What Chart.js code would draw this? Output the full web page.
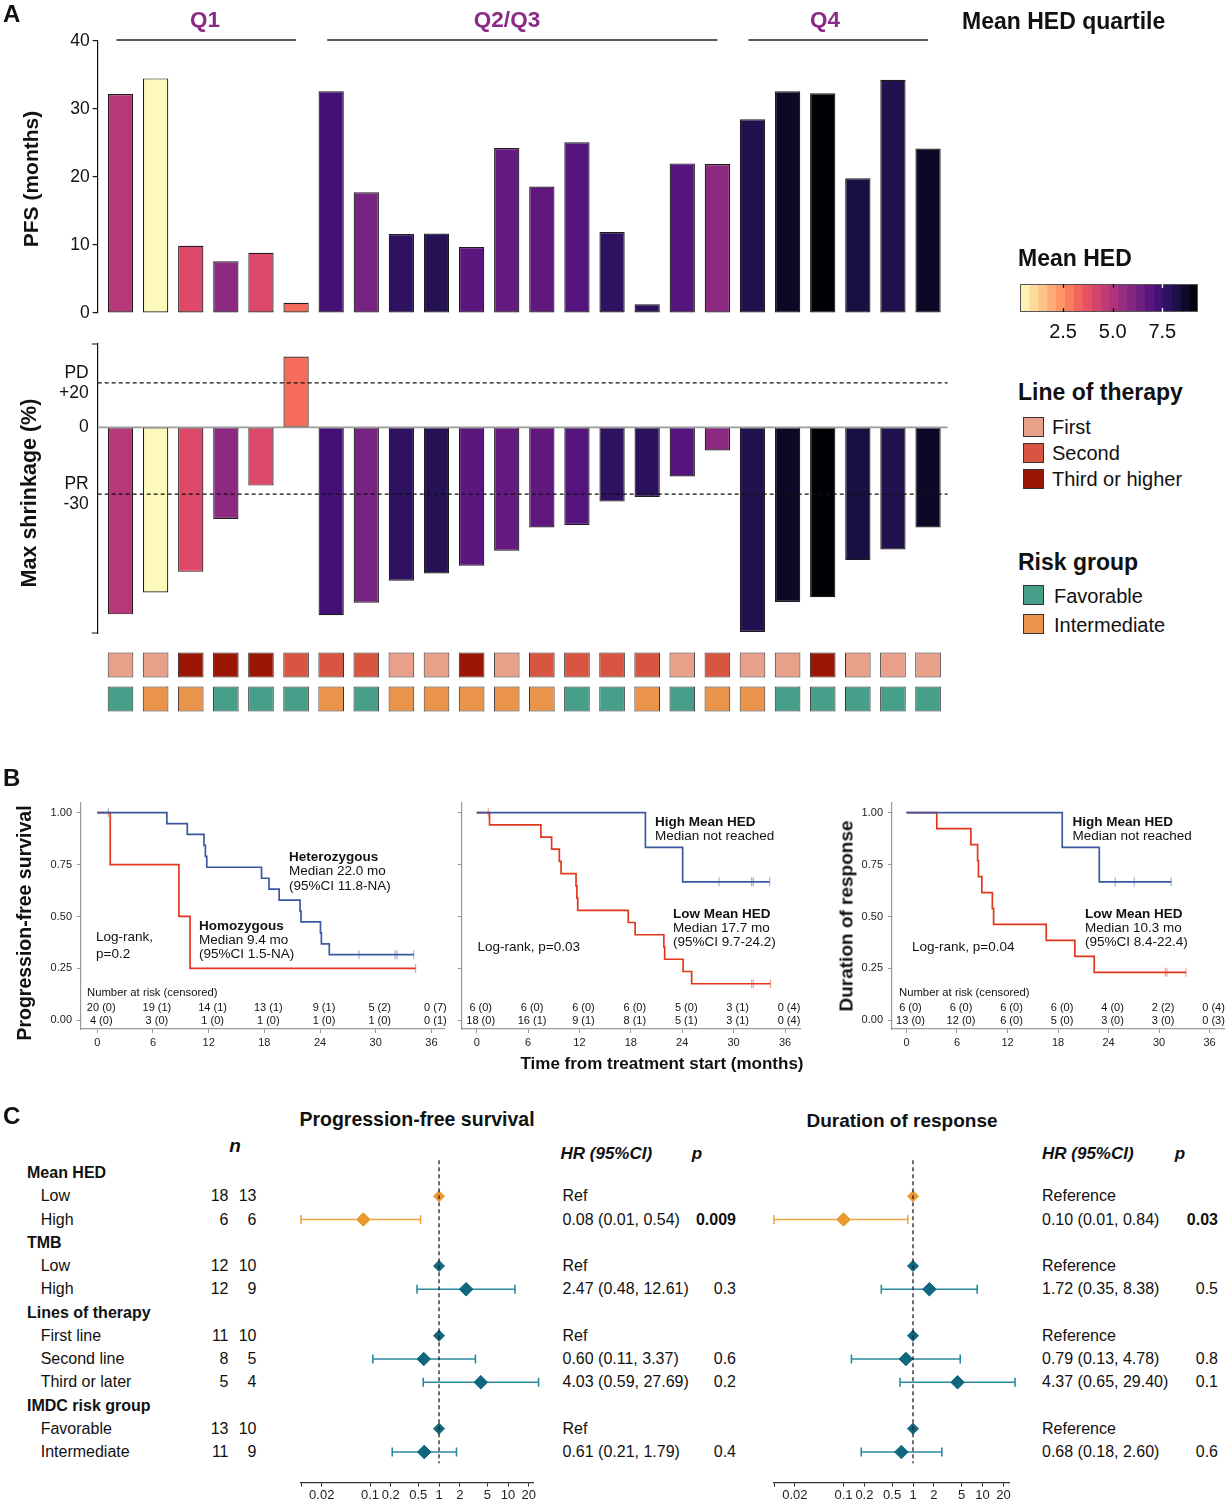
<!DOCTYPE html>
<html>
<head>
<meta charset="utf-8">
<script src="https://cdn.jsdelivr.net/npm/chart.js@4.4.1/dist/chart.umd.min.js"></script>
<style>
  body { margin: 0; background: #fff; }
  #page { position: relative; width: 1230px; height: 1500px; overflow: hidden;
          font-family: "Liberation Sans", Arial, Helvetica, sans-serif; color: #111; }
  .lbl { position: absolute; white-space: nowrap; line-height: 1; }
  .sw { position: absolute; width: 21px; height: 20px; border: 1px solid #333; box-sizing: border-box; }
  canvas { position: absolute; }
</style>
</head>
<body>
<div id="page"></div>
<script>
// ---------- Panel A: one entry per patient, left to right ----------
const pfsMonths = [32.2, 34.5, 9.9, 7.6, 8.85, 1.5, 32.6, 17.75, 11.6, 11.7, 9.7, 24.25, 18.6, 25.1, 11.9, 1.3, 22.0, 21.9, 28.5, 32.6, 32.3, 19.8, 34.3, 24.2];
const shrinkPct = [-84.1, -74.3, -65.0, -41.2, -26.2, 31.9, -84.5, -78.9, -69.0, -65.7, -62.3, -55.5, -45.0, -43.9, -33.4, -31.3, -22.1, -10.4, -92.0, -78.5, -76.4, -59.7, -54.9, -45.0];
const meanHED = [4.82, 0.40, 3.92, 5.71, 3.95, 3.11, 7.33, 6.16, 7.78, 7.95, 6.79, 6.61, 6.70, 6.97, 7.78, 7.82, 6.97, 5.71, 8.04, 8.67, 9.30, 8.26, 8.04, 8.67];
const lineOfTherapy = ['First', 'First', 'Third', 'Third', 'Third', 'Second', 'Second', 'Second', 'First', 'First', 'Third', 'First',
                       'Second', 'Second', 'Second', 'Second', 'First', 'Second', 'First', 'First', 'Third', 'First', 'First', 'First'];
const riskGroup = ['Favorable', 'Intermediate', 'Intermediate', 'Favorable', 'Favorable', 'Favorable', 'Intermediate', 'Favorable',
                   'Intermediate', 'Intermediate', 'Intermediate', 'Intermediate', 'Intermediate', 'Favorable', 'Favorable', 'Intermediate',
                   'Favorable', 'Intermediate', 'Intermediate', 'Favorable', 'Favorable', 'Favorable', 'Favorable', 'Favorable'];
const quartileNames = ['Q1', 'Q2/Q3', 'Q4'];
const quartileSizes = [6, 12, 6];
const hedMin = 0.33, hedMax = 9.3, hedBands = 20;
const hedTicks = [2.5, 5.0, 7.5];

// ---------- Panel B: Kaplan-Meier steps (months, survival) ----------
const riskTimes = [0, 6, 12, 18, 24, 30, 36];
const kmYTicks = [0, 0.25, 0.5, 0.75, 1];

const km1HetT = [0, 7.5, 9.7, 11.5, 11.65, 11.8, 17.7, 18.5, 19.6, 21.85, 21.95, 24.05, 24.15, 25.0, 34.1];
const km1HetS = [1, 0.947, 0.895, 0.842, 0.789, 0.737, 0.684, 0.632, 0.579, 0.526, 0.474, 0.421, 0.368, 0.316, 0.316];
const km1HetCensT = [1.2, 28.2, 32.1, 32.3, 34.1];
const km1HetCensS = [1, 0.316, 0.316, 0.316, 0.316];
const km1HomT = [0, 1.4, 8.8, 10.0, 34.3];
const km1HomS = [1, 0.75, 0.5, 0.25, 0.25];
const km1HomCensT = [34.3];
const km1HomCensS = [0.25];
const km1RiskBlue = ['20 (0)', '19 (1)', '14 (1)', '13 (1)', '9 (1)', '5 (2)', '0 (7)'];
const km1RiskRed = ['4 (0)', '3 (0)', '1 (0)', '1 (0)', '1 (0)', '1 (0)', '0 (1)'];

const km2HighT = [0, 19.7, 24.05, 34.2];
const km2HighS = [1, 0.833, 0.667, 0.667];
const km2HighCensT = [28.3, 32.1, 32.3, 34.2];
const km2HighCensS = [0.667, 0.667, 0.667, 0.667];
const km2LowT = [0, 1.5, 7.5, 8.75, 9.65, 9.85, 11.6, 11.7, 11.8, 17.7, 18.5, 21.85, 21.95, 24.1, 25.1, 34.3];
const km2LowS = [1, 0.941, 0.882, 0.824, 0.765, 0.706, 0.647, 0.588, 0.529, 0.471, 0.412, 0.353, 0.294, 0.235, 0.176, 0.176];
const km2LowCensT = [1.35, 32.1, 32.3, 34.3];
const km2LowCensS = [1, 0.176, 0.176, 0.176];
const km2RiskBlue = ['6 (0)', '6 (0)', '6 (0)', '6 (0)', '5 (0)', '3 (1)', '0 (4)'];
const km2RiskRed = ['18 (0)', '16 (1)', '9 (1)', '8 (1)', '5 (1)', '3 (1)', '0 (4)'];

const km3HighT = [0, 18.5, 22.9, 31.45];
const km3HighS = [1, 0.833, 0.667, 0.667];
const km3HighCensT = [24.8, 27.05, 31.45];
const km3HighCensS = [0.667, 0.667, 0.667];
const km3LowT = [0, 3.6, 7.65, 8.45, 8.55, 8.95, 10.2, 10.35, 16.6, 20.0, 22.3, 33.2];
const km3LowS = [1, 0.923, 0.846, 0.769, 0.692, 0.615, 0.538, 0.462, 0.385, 0.308, 0.231, 0.231];
const km3LowCensT = [30.75, 30.95, 33.2];
const km3LowCensS = [0.231, 0.231, 0.231];
const km3RiskBlue = ['6 (0)', '6 (0)', '6 (0)', '6 (0)', '4 (0)', '2 (2)', '0 (4)'];
const km3RiskRed = ['13 (0)', '12 (0)', '6 (0)', '5 (0)', '3 (0)', '3 (0)', '0 (3)'];

// ---------- Panel C: forest plots ----------
const forestLabels = ['Mean HED', 'Low', 'High', 'TMB', 'Low', 'High', 'Lines of therapy', 'First line', 'Second line', 'Third or later',
                      'IMDC risk group', 'Favorable', 'Intermediate'];
const forestHeader = [1, 0, 0, 1, 0, 0, 1, 0, 0, 0, 1, 0, 0];
const nPFS = [null, 18, 6, null, 12, 12, null, 11, 8, 5, null, 13, 11];
const nDOR = [null, 13, 6, null, 10, 9, null, 10, 5, 4, null, 10, 9];
const pfsHR = [null, 1, 0.08, null, 1, 2.47, null, 1, 0.60, 4.03, null, 1, 0.61];
const pfsLo = [null, null, 0.01, null, null, 0.48, null, null, 0.11, 0.59, null, null, 0.21];
const pfsHi = [null, null, 0.54, null, null, 12.61, null, null, 3.37, 27.69, null, null, 1.79];
const pfsP = [null, null, '0.009', null, null, '0.3', null, null, '0.6', '0.2', null, null, '0.4'];
const dorHR = [null, 1, 0.10, null, 1, 1.72, null, 1, 0.79, 4.37, null, 1, 0.68];
const dorLo = [null, null, 0.01, null, null, 0.35, null, null, 0.13, 0.65, null, null, 0.18];
const dorHi = [null, null, 0.84, null, null, 8.38, null, null, 4.78, 29.40, null, null, 2.60];
const dorP = [null, null, '0.03', null, null, '0.5', null, null, '0.8', '0.1', null, null, '0.6'];
const forestTicks = [0.01, 0.02, 0.1, 0.2, 0.5, 1, 2, 5, 10, 20];

// ---------- styling ----------
const lotColors = { First: '#e9a08a', Second: '#d85641', Third: '#9b1703' };
const riskColors = { Favorable: '#46a089', Intermediate: '#ea934b' };
const blue = '#3b57a0', red = '#e2371d';
const orange = '#eb9a2e', teal = '#0f687d';

const magmaStops = ['#000004', '#07061c', '#140e36', '#251255', '#3b0f70', '#51127c', '#641a80', '#782281', '#8c2981', '#a1307e',
                    '#b73779', '#cb3e72', '#de4968', '#ed5a5f', '#f7705c', '#fc8961', '#fe9f6d', '#feb77e', '#fecf92', '#fde5a7', '#fcfdbf'];
function hexRgb(h) { return [1, 3, 5].map(k => parseInt(h.slice(k, k + 2), 16)); }
function magma(t) {
  t = Math.min(1, Math.max(0, t));
  const f = t * 20, i = Math.min(19, Math.floor(f)), u = f - i;
  const a = hexRgb(magmaStops[i]), b = hexRgb(magmaStops[i + 1]);
  return 'rgb(' + a.map((v, k) => Math.round(v + (b[k] - v) * u)).join(',') + ')';
}
const hedColor = v => magma(1 - (v - hedMin) / (hedMax - hedMin));
const barColors = meanHED.map(hedColor);

const page = document.getElementById('page');
Chart.defaults.font.family = '"Liberation Sans", Arial, Helvetica, sans-serif';
Chart.defaults.color = '#111';
Chart.defaults.animation = false;
Chart.defaults.responsive = false;
Chart.defaults.plugins.legend.display = false;
Chart.defaults.plugins.tooltip.enabled = false;

function canvasAt(left, top, w, h) {
  const c = document.createElement('canvas');
  c.width = w; c.height = h;
  c.style.left = left + 'px'; c.style.top = top + 'px';
  c.style.width = w + 'px'; c.style.height = h + 'px';
  page.appendChild(c);
  return c;
}

function label(s, x, y, size, o = {}) {
  const d = document.createElement('div');
  d.className = 'lbl';
  d.textContent = s;
  const ax = o.rot || o.align === 'center' ? '-50%' : o.align === 'right' ? '-100%' : '0';
  d.style.left = x + 'px';
  d.style.top = y + 'px';
  d.style.fontSize = size + 'px';
  if (o.bold) d.style.fontWeight = 'bold';
  if (o.italic) d.style.fontStyle = 'italic';
  if (o.color) d.style.color = o.color;
  d.style.transform = 'translate(' + ax + ',-50%)' + (o.rot ? ' rotate(-90deg)' : '');
  page.appendChild(d);
}

function swatch(x, y, color) {
  const d = document.createElement('div');
  d.className = 'sw';
  d.style.left = x + 'px'; d.style.top = y + 'px'; d.style.background = color;
  page.appendChild(d);
}

// ================= Panel A =================
const barX = { type: 'linear', min: -0.65, max: 23.5, display: false, offset: false, grid: { offset: false } };

// group lines above the PFS bars
const groupLines = {
  id: 'groupLines',
  afterDraw(c) {
    const x = c.scales.x, ctx = c.ctx, py = c.scales.y.getPixelForValue(40) - 1;
    ctx.save();
    ctx.strokeStyle = '#222';
    ctx.lineWidth = 1.6;
    let start = 0;
    quartileSizes.forEach(n => {
      ctx.beginPath();
      ctx.moveTo(x.getPixelForValue(start) - 4, py);
      ctx.lineTo(x.getPixelForValue(start + n - 1), py);
      ctx.stroke();
      start += n;
    });
    ctx.restore();
  }
};

new Chart(canvasAt(0, 0, 960, 330), {
  type: 'bar',
  data: { datasets: [{
    data: pfsMonths.map((v, i) => ({ x: i, y: v })),
    backgroundColor: barColors, borderColor: '#1c1c1c', borderWidth: 1.2, borderSkipped: false,
    barPercentage: 0.72, categoryPercentage: 1
  }] },
  options: {
    layout: { padding: { top: 41, right: 14.4, bottom: 17, left: 0 } },
    scales: {
      x: barX,
      y: {
        min: 0, max: 40,
        afterFit: s => { s.width = 97.7; },
        ticks: { stepSize: 10, font: { size: 17.5 }, color: '#111', padding: 3 },
        grid: { drawOnChartArea: false, tickLength: 5, color: '#111', lineWidth: 1.2 },
        border: { color: '#111', width: 1.2 }
      }
    }
  },
  plugins: [groupLines]
});

// reference lines of the shrinkage plot
const shrinkLines = {
  id: 'shrinkLines',
  afterDatasetsDraw(c) {
    const a = c.chartArea, y = c.scales.y, ctx = c.ctx;
    ctx.save();
    ctx.strokeStyle = '#9c9c9c';
    ctx.lineWidth = 1.6;
    ctx.beginPath();
    ctx.moveTo(a.left, y.getPixelForValue(0));
    ctx.lineTo(a.right + 2, y.getPixelForValue(0));
    ctx.stroke();
    ctx.strokeStyle = '#111';
    ctx.lineWidth = 1.3;
    ctx.setLineDash([4, 3]);
    [20, -30].forEach(v => {
      ctx.beginPath();
      ctx.moveTo(a.left, y.getPixelForValue(v));
      ctx.lineTo(a.right + 2, y.getPixelForValue(v));
      ctx.stroke();
    });
    ctx.setLineDash([]);
    ctx.lineWidth = 1.2;
    ctx.beginPath();
    ctx.moveTo(a.left - 6, a.top); ctx.lineTo(a.left, a.top);
    ctx.moveTo(a.left - 6, a.bottom); ctx.lineTo(a.left, a.bottom);
    ctx.stroke();
    ctx.restore();
  }
};

// canvas starts higher than the plot so the two-line tick labels never squeeze the axis
new Chart(canvasAt(0, 300, 960, 377), {
  type: 'bar',
  data: { datasets: [{
    data: shrinkPct.map((v, i) => ({ x: i, y: v })),
    backgroundColor: barColors, borderColor: '#1c1c1c', borderWidth: 1.2, borderSkipped: false,
    barPercentage: 0.72, categoryPercentage: 1
  }] },
  options: {
    layout: { padding: { top: 44, right: 14.4, bottom: 44, left: 0 } },
    scales: {
      x: barX,
      y: {
        min: -92.5, max: 37.5,
        afterFit: s => { s.width = 97.7; },
        afterBuildTicks: s => { s.ticks = [-30, 0, 20].map(v => ({ value: v })); },
        ticks: {
          callback: v => v === 20 ? ['PD', '+20'] : v === -30 ? ['PR', '-30'] : '0',
          font: { size: 17.5, lineHeight: 1.15 }, color: '#111', padding: 9
        },
        grid: { display: false, drawTicks: false },
        border: { color: '#111', width: 1.2 }
      }
    }
  },
  plugins: [shrinkLines]
});

// annotation tiles: line of therapy (top row) and risk group (bottom row)
new Chart(canvasAt(0, 642, 960, 78), {
  type: 'bar',
  data: { datasets: [
    { data: lineOfTherapy.map((c, i) => ({ x: i, y: [1.13, 1.87] })), backgroundColor: lineOfTherapy.map(c => lotColors[c]) },
    { data: riskGroup.map((c, i) => ({ x: i, y: [0.13, 0.87] })), backgroundColor: riskGroup.map(c => riskColors[c]) }
  ].map(d => Object.assign(d, { borderColor: '#333', borderWidth: 1, borderSkipped: false, grouped: false,
                                barPercentage: 0.73, categoryPercentage: 1 })) },
  options: {
    layout: { padding: { top: 6, right: 14.4, bottom: 4, left: 97.7 } },
    scales: { x: barX, y: { min: 0, max: 2, display: false } }
  }
});

// colour bar legend
const bandW = (hedMax - hedMin) / hedBands;
const cbarMarks = {
  id: 'cbarMarks',
  afterDatasetsDraw(c) {
    const a = c.chartArea, x = c.scales.x, ctx = c.ctx;
    ctx.save();
    ctx.strokeStyle = '#555';
    ctx.lineWidth = 1;
    ctx.strokeRect(a.left + 0.5, a.top + 0.5, a.width - 1, a.height - 1);
    hedTicks.forEach((v, k) => {
      const px = Math.round(x.getPixelForValue(v)) + 0.5;
      ctx.strokeStyle = k === hedTicks.length - 1 ? '#fff' : '#111';
      ctx.lineWidth = 1.3;
      ctx.beginPath();
      ctx.moveTo(px, a.top); ctx.lineTo(px, a.top + 4);
      ctx.moveTo(px, a.bottom); ctx.lineTo(px, a.bottom - 4);
      ctx.stroke();
    });
    ctx.restore();
  }
};
new Chart(canvasAt(1000, 270, 230, 75), {
  type: 'bar',
  data: {
    labels: [''],
    datasets: Array.from({ length: hedBands }, (_, k) => ({
      data: [[hedMin + k * bandW, hedMin + (k + 1) * bandW + 0.01]],
      backgroundColor: hedColor(hedMin + (k + 0.5) * bandW),
      borderWidth: 0, grouped: false, barPercentage: 1, categoryPercentage: 1
    }))
  },
  options: {
    indexAxis: 'y',
    layout: { padding: { top: 14, right: 32, bottom: 0, left: 20 } },
    scales: {
      x: {
        type: 'linear', min: hedMin, max: hedMax,
        afterFit: s => { s.height = 33; },
        afterBuildTicks: s => { s.ticks = hedTicks.map(v => ({ value: v })); },
        ticks: { callback: v => v.toFixed(1), font: { size: 20 }, color: '#111', padding: 8, autoSkip: false, maxRotation: 0 },
        grid: { display: false, drawTicks: false },
        border: { display: false }
      },
      y: { display: false }
    }
  },
  plugins: [cbarMarks]
});

label('A', 3, 14, 24, { bold: true });
label(quartileNames[0], 205, 20, 22.5, { bold: true, color: '#8b2a86', align: 'center' });
label(quartileNames[1], 507, 20, 22.5, { bold: true, color: '#8b2a86', align: 'center' });
label(quartileNames[2], 825, 20, 22.5, { bold: true, color: '#8b2a86', align: 'center' });
label('Mean HED quartile', 962, 21, 23, { bold: true });
label('PFS (months)', 30, 179, 21, { bold: true, rot: true });
label('Max shrinkage (%)', 30, 493, 21.5, { bold: true, rot: true });
label('Mean HED', 1018, 258, 23, { bold: true });
label('Line of therapy', 1018, 392, 23, { bold: true });
[['First', 'First'], ['Second', 'Second'], ['Third', 'Third or higher']].forEach(([k, s], i) => {
  const cy = [427, 452.5, 478.5][i];
  swatch(1023, cy - 10, lotColors[k]);
  label(s, 1052, cy, 20);
});
label('Risk group', 1018, 562, 23, { bold: true });
[['Favorable', 596], ['Intermediate', 625]].forEach(([k, cy]) => {
  swatch(1023, cy - 11, riskColors[k]);
  label(k, 1054, cy, 20);
});

// ================= Panel B =================
function kmChart(left, top, w, h, areaL, areaR, xmin, xmax, curves, showY) {
  const ds = [];
  curves.forEach(cv => ds.push({
    data: cv.t.map((t, i) => ({ x: t, y: cv.s[i] })), stepped: true,
    borderColor: cv.color, borderWidth: 1.7, pointRadius: 0, fill: false, order: cv.order
  }));
  curves.forEach(cv => ds.push({
    data: cv.ct.map((t, i) => ({ x: t, y: cv.cs[i] })), showLine: false,
    pointStyle: 'line', rotation: 90, pointRadius: 4.5, pointBorderWidth: 1.2,
    borderColor: cv.tick, pointBorderColor: cv.tick, order: cv.order
  }));
  const axisGrey = '#9a9a9a';
  return new Chart(canvasAt(left, top, w, h), {
    type: 'line',
    data: { datasets: ds },
    options: {
      layout: { padding: { left: 0, right: w - areaR, top: 12.7, bottom: 0 } },
      scales: {
        x: {
          type: 'linear', min: xmin, max: xmax,
          afterFit: s => { s.height = h - 239; },
          afterBuildTicks: s => { s.ticks = riskTimes.map(v => ({ value: v })); },
          ticks: { font: { size: 11 }, color: '#222', padding: 3, autoSkip: false, maxRotation: 0 },
          grid: { drawOnChartArea: false, tickLength: 4, color: axisGrey },
          border: { color: axisGrey, width: 1.2 }
        },
        y: {
          min: -0.042, max: 1.048,
          afterFit: s => { s.width = areaL; },
          afterBuildTicks: s => { s.ticks = kmYTicks.map(v => ({ value: v })); },
          ticks: { display: showY, callback: v => v.toFixed(2), font: { size: 11 }, color: '#222', padding: 5 },
          grid: { drawOnChartArea: false, tickLength: 4, color: axisGrey },
          border: { color: axisGrey, width: 1.2 }
        }
      }
    }
  });
}
const blueTick = 'rgba(59,87,160,0.45)', redTick = 'rgba(226,55,29,0.45)';

const km1 = kmChart(0, 790, 450, 270, 81, 445, -1.75, 37.39, [
  { t: km1HetT, s: km1HetS, ct: km1HetCensT, cs: km1HetCensS, color: blue, tick: blueTick, order: 0 },
  { t: km1HomT, s: km1HomS, ct: km1HomCensT, cs: km1HomCensS, color: red, tick: redTick, order: 1 }
], true);
const km2 = kmChart(450, 790, 360, 270, 11.7, 350, -1.75, 37.75, [
  { t: km2HighT, s: km2HighS, ct: km2HighCensT, cs: km2HighCensS, color: blue, tick: blueTick, order: 0 },
  { t: km2LowT, s: km2LowS, ct: km2LowCensT, cs: km2LowCensS, color: red, tick: redTick, order: 1 }
], false);
const km3 = kmChart(830, 790, 400, 270, 62, 400, -1.72, 37.75, [
  { t: km3HighT, s: km3HighS, ct: km3HighCensT, cs: km3HighCensS, color: blue, tick: blueTick, order: 0 },
  { t: km3LowT, s: km3LowS, ct: km3LowCensT, cs: km3LowCensS, color: red, tick: redTick, order: 1 }
], true);

function riskRow(chart, left, y, values) {
  values.forEach((s, i) => label(s, left + chart.scales.x.getPixelForValue(riskTimes[i]) + 4, y, 11, { align: 'center' }));
}
riskRow(km1, 0, 1006.5, km1RiskBlue);
riskRow(km1, 0, 1020, km1RiskRed);
riskRow(km2, 450, 1006.5, km2RiskBlue);
riskRow(km2, 450, 1020, km2RiskRed);
riskRow(km3, 830, 1006.5, km3RiskBlue);
riskRow(km3, 830, 1020, km3RiskRed);

label('B', 3, 778, 24, { bold: true });
label('Progression-free survival', 25, 923, 19.5, { bold: true, rot: true });
label('Duration of response', 845.5, 916, 19, { bold: true, rot: true });
label('Time from treatment start (months)', 662, 1063, 17, { bold: true, align: 'center' });
label('Number at risk (censored)', 87, 992.5, 11.3);
label('Number at risk (censored)', 899, 992.5, 11.3);

label('Heterozygous', 289, 857, 13.5, { bold: true });
label('Median 22.0 mo', 289, 871.3, 13.5);
label('(95%CI 11.8-NA)', 289, 886, 13.5);
label('Homozygous', 199, 925.5, 13.5, { bold: true });
label('Median 9.4 mo', 199, 940, 13.5);
label('(95%CI 1.5-NA)', 199, 954, 13.5);
label('Log-rank,', 96, 936.5, 13.5);
label('p=0.2', 96, 954, 13.5);

label('High Mean HED', 655, 822, 13.5, { bold: true });
label('Median not reached', 655, 836, 13.5);
label('Low Mean HED', 673, 914, 13.5, { bold: true });
label('Median 17.7 mo', 673, 928, 13.5);
label('(95%CI 9.7-24.2)', 673, 942.3, 13.5);
label('Log-rank, p=0.03', 477.5, 946.5, 13.5);

label('High Mean HED', 1072.5, 822, 13.5, { bold: true });
label('Median not reached', 1072.5, 836, 13.5);
label('Low Mean HED', 1085, 914, 13.5, { bold: true });
label('Median 10.3 mo', 1085, 928, 13.5);
label('(95%CI 8.4-22.4)', 1085, 942.3, 13.5);
label('Log-rank, p=0.04', 912, 947, 13.5);

// ================= Panel C =================
const rowTone = forestLabels.map((_, i) => i < forestHeader.indexOf(1, 1) ? orange : teal);
const whiskTone = rowTone.map(c => c === orange ? '#f0a640' : '#2b89a1');

function forestChart(left, top, areaL, areaR, xmax, hr, lo, hi) {
  const bars = {
    id: 'bars',
    beforeDatasetsDraw(c) {
      const x = c.scales.x, y = c.scales.y, ctx = c.ctx;
      ctx.save();
      ctx.lineWidth = 1.6;
      lo.forEach((l, i) => {
        if (l == null) return;
        const py = y.getPixelForValue(i), x0 = x.getPixelForValue(l), x1 = x.getPixelForValue(hi[i]);
        ctx.strokeStyle = whiskTone[i];
        ctx.beginPath();
        ctx.moveTo(x0, py); ctx.lineTo(x1, py);
        ctx.moveTo(x0, py - 4.5); ctx.lineTo(x0, py + 4.5);
        ctx.moveTo(x1, py - 4.5); ctx.lineTo(x1, py + 4.5);
        ctx.stroke();
      });
      ctx.restore();
    },
    afterDatasetsDraw(c) {
      const x = c.scales.x, y = c.scales.y, ctx = c.ctx, px = x.getPixelForValue(1);
      ctx.save();
      ctx.strokeStyle = '#222';
      ctx.lineWidth = 1.3;
      ctx.setLineDash([4, 3]);
      ctx.beginPath();
      ctx.moveTo(px, y.getPixelForValue(-0.55));
      ctx.lineTo(px, y.getPixelForValue(12.48));
      ctx.stroke();
      ctx.restore();
    }
  };
  const pts = [], cols = [], rads = [];
  hr.forEach((v, i) => {
    if (v == null) return;
    pts.push({ x: v, y: i });
    cols.push(rowTone[i]);
    rads.push(lo[i] == null ? 5.5 : 6.8);
  });
  return new Chart(canvasAt(left, top, 280, 362), {
    type: 'scatter',
    data: { datasets: [{ data: pts, pointStyle: 'rectRot', pointRadius: rads,
                         pointBackgroundColor: cols, pointBorderColor: cols, pointBorderWidth: 1 }] },
    options: {
      layout: { padding: { left: areaL, right: 280 - areaR, top: 19, bottom: 0 } },
      scales: {
        x: {
          type: 'logarithmic', min: 0.01, max: xmax,
          afterFit: s => { s.height = 362 - 342.7; },
          afterBuildTicks: s => { s.ticks = forestTicks.map(v => ({ value: v })); },
          ticks: { callback: v => v === forestTicks[0] ? '' : String(v), font: { size: 13 }, color: '#222',
                   padding: 1, autoSkip: false, maxRotation: 0 },
          grid: { drawOnChartArea: false, tickLength: 4, color: '#333' },
          border: { color: '#333', width: 1.2 }
        },
        y: { min: -0.602, max: 13.32, reverse: true, display: false }
      }
    },
    plugins: [bars]
  });
}
forestChart(280, 1140, 21, 253, 23, pfsHR, pfsLo, pfsHi);
forestChart(750, 1140, 24, 259, 24.05, dorHR, dorLo, dorHi);

label('C', 3, 1116, 24, { bold: true });
label('Progression-free survival', 417, 1120, 19.5, { bold: true, align: 'center' });
label('Duration of response', 902, 1120, 19, { bold: true, align: 'center' });
label('n', 235, 1145, 19, { bold: true, italic: true, align: 'center' });
label('HR (95%CI)', 560.5, 1153, 17, { bold: true, italic: true });
label('p', 697, 1153, 17, { bold: true, italic: true, align: 'center' });
label('HR (95%CI)', 1042, 1153, 17, { bold: true, italic: true });
label('p', 1180, 1153, 17, { bold: true, italic: true, align: 'center' });

function hrText(hr, lo, hi, ref) {
  return lo == null ? ref : hr.toFixed(2) + ' (' + lo.toFixed(2) + ', ' + hi.toFixed(2) + ')';
}
forestLabels.forEach((s, i) => {
  const y = 1173 + 23.25 * i;
  if (forestHeader[i]) { label(s, 27, y, 16, { bold: true }); return; }
  label(s, 40.7, y, 16);
  label(String(nPFS[i]), 228.5, y, 16, { align: 'right' });
  label(String(nDOR[i]), 256.5, y, 16, { align: 'right' });
  label(hrText(pfsHR[i], pfsLo[i], pfsHi[i], 'Ref'), 562.5, y, 16);
  label(hrText(dorHR[i], dorLo[i], dorHi[i], 'Reference'), 1042, y, 16);
  if (pfsP[i]) label(pfsP[i], 736, y, 16, { align: 'right', bold: parseFloat(pfsP[i]) < 0.05 });
  if (dorP[i]) label(dorP[i], 1218, y, 16, { align: 'right', bold: parseFloat(dorP[i]) < 0.05 });
});
</script>
</body>
</html>
